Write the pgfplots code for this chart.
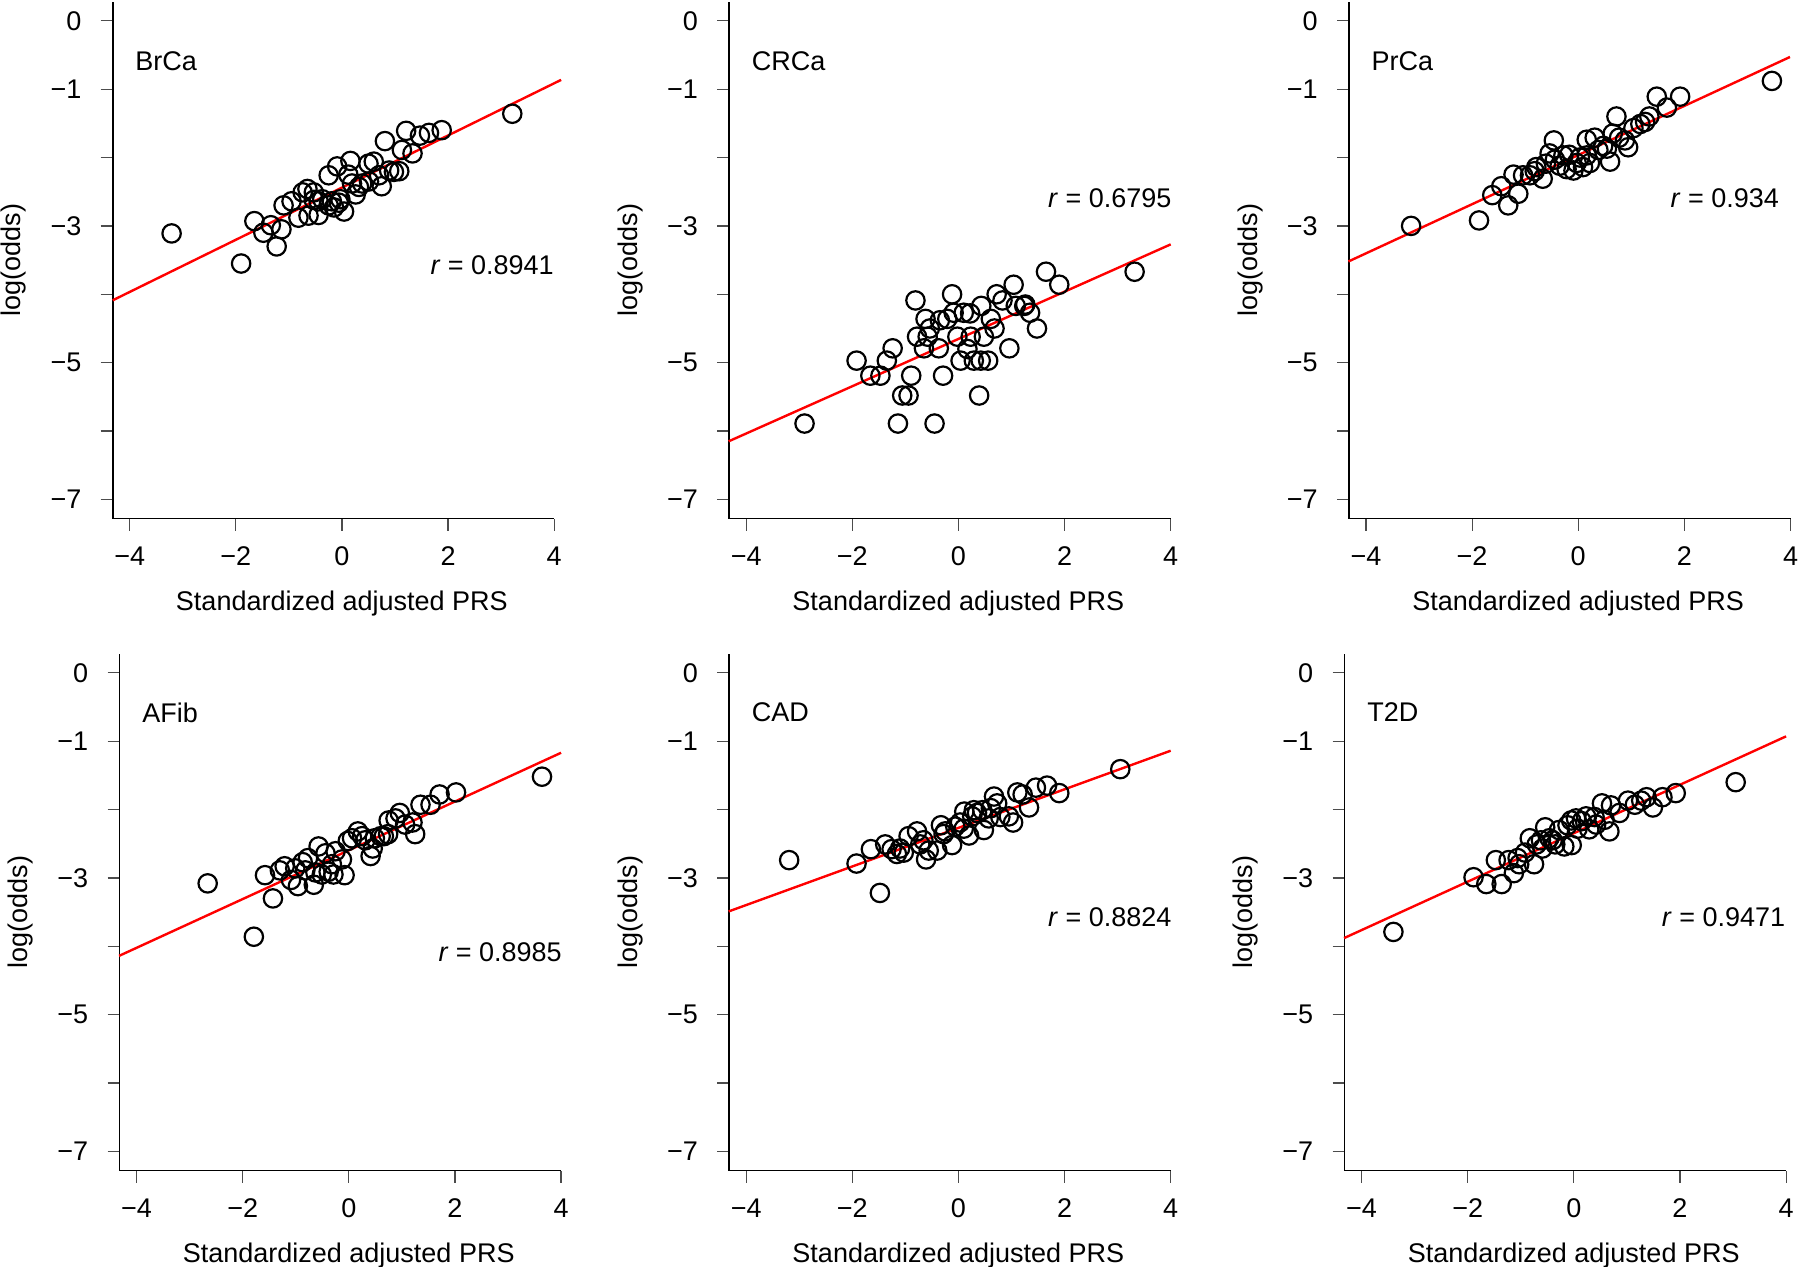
\documentclass[border=0pt]{standalone}
\usepackage{fontspec}
\setmainfont{Liberation Sans}
\usepackage{pgfplots}
\pgfplotsset{compat=1.18}

\pgfplotsset{
  prs/.style={
    width=220.75pt, height=258.5pt, scale only axis,
    xmin=-4.32, xmax=4, ymin=-7.28, ymax=0.28,
    axis x line=bottom, axis y line=left,
    axis line style={-, line width=0.8pt, black},
    tick align=outside, major tick length=6pt,
    tick style={line width=0.6pt, black!70},
    xtick={-4,-2,0,2,4}, xticklabels={−4,−2,0,2,4},
    ytick={-7,-6,-5,-4,-3,-2,-1,0}, yticklabels={−7,,−5,,−3,,−1,0},
    xticklabel style={yshift=-3.5pt},
    yticklabel style={xshift=-5pt},
    xlabel={Standardized adjusted PRS}, ylabel={log(odds)},
    xlabel style={at={(axis description cs:0.519,-0.1634)}, anchor=center},
    ylabel style={at={(axis description cs:-0.2242,0.5)}, anchor=center},
    clip=false,
  },
  pts/.style={only marks, mark=o, mark size=4.6pt, mark options={line width=1.1pt, black}},
  fit/.style={red, line width=1.2pt, no marks},
}
\tikzset{lab/.style={inner sep=0pt}}

\begin{document}
\fontsize{13.5}{16.2}\selectfont
\begin{tikzpicture}
\useasboundingbox (0,0) rectangle (900pt,633pt);

% BrCa
\begin{axis}[prs, at={(56.35pt,373.7pt)}, anchor=south west]
\addplot[pts] coordinates {
(-3.21,-3.11) (-1.90,-3.55) (3.21,-1.36) (-1.65,-2.93) (-1.34,-2.99) (-1.48,-3.10)
(-1.14,-3.05) (-1.23,-3.30) (-1.10,-2.70) (-0.95,-2.64) (-0.82,-2.88) (-0.74,-2.51)
(-0.63,-2.85) (-0.53,-2.51) (-0.44,-2.84) (-0.44,-2.64) (-0.25,-2.26) (-0.25,-2.70)
(-0.09,-2.13) (-0.06,-2.66) (0.04,-2.79) (0.16,-2.05) (0.12,-2.25) (0.26,-2.54)
(0.38,-2.38) (0.50,-2.09) (0.60,-2.06) (0.51,-2.35) (0.75,-2.42) (0.81,-1.76)
(0.89,-2.19) (1.08,-2.20) (1.13,-1.89) (1.21,-1.61) (1.33,-1.94) (1.47,-1.68)
(1.64,-1.64) (1.88,-1.60) (-0.53,-2.62) (-0.19,-2.64) (-0.65,-2.46) (0.19,-2.38)
(0.32,-2.43) (0.70,-2.26) (0.98,-2.21) (-0.37,-2.61) (-0.15,-2.73) (-0.03,-2.61)
};
\addplot[fit] coordinates {(-4.32,-4.088) (4.13,-0.865)};
\node[lab, anchor=west] at (axis cs:-3.9,-0.59) {BrCa};
\node[lab, anchor=east] at (axis cs:4.0,-3.57) {\textit{r} = 0.8941};
\end{axis}

% CRCa
\begin{axis}[prs, at={(364.6pt,373.7pt)}, anchor=south west]
\addplot[pts] coordinates {
(-2.90,-5.89) (-1.14,-5.89) (-0.45,-5.89) (3.32,-3.67) (1.65,-3.67) (1.90,-3.86)
(-1.92,-4.97) (-1.66,-5.19) (-1.47,-5.19) (-1.35,-4.97) (-1.24,-4.79) (-1.06,-5.48)
(-0.94,-5.48) (-0.89,-5.19) (-0.81,-4.09) (-0.78,-4.62) (-0.62,-4.36) (-0.65,-4.79)
(-0.54,-4.50) (-0.58,-4.62) (-0.37,-4.79) (-0.35,-4.38) (-0.29,-5.19) (-0.21,-4.36)
(-0.12,-4.00) (-0.09,-4.27) (-0.02,-4.62) (0.04,-4.97) (0.10,-4.27) (0.22,-4.28)
(0.23,-4.62) (0.17,-4.80) (0.29,-4.97) (0.39,-5.48) (0.43,-4.17) (0.48,-4.62)
(0.42,-4.97) (0.56,-4.97) (0.61,-4.36) (0.68,-4.50) (0.72,-4.00) (0.83,-4.09)
(0.96,-4.79) (1.04,-3.86) (1.08,-4.17) (1.24,-4.17) (1.35,-4.27) (1.48,-4.50)
(1.26,-4.15)
};
\addplot[fit] coordinates {(-4.33,-6.15) (4.0,-3.27)};
\node[lab, anchor=west] at (axis cs:-3.9,-0.59) {CRCa};
\node[lab, anchor=east] at (axis cs:4.02,-2.59) {\textit{r} = 0.6795};
\end{axis}

% PrCa
\begin{axis}[prs, at={(674.5pt,373.7pt)}, anchor=south west]
\addplot[pts] coordinates {
(-3.15,-3.00) (-1.87,-2.92) (3.65,-0.88) (1.48,-1.11) (1.92,-1.11) (1.67,-1.27)
(0.72,-1.40) (-1.62,-2.55) (-1.45,-2.42) (-1.32,-2.70) (-1.13,-2.53) (-1.22,-2.25)
(-1.04,-2.26) (-0.91,-2.26) (-0.79,-2.14) (-0.67,-2.31) (-0.61,-2.09) (-0.54,-1.94)
(-0.46,-1.75) (-0.35,-2.12) (-0.28,-1.97) (-0.17,-1.96) (-0.09,-2.19) (-0.03,-2.08)
(0.03,-2.00) (0.16,-1.74) (0.22,-2.08) (0.31,-1.71) (0.38,-1.89) (0.47,-1.83)
(0.60,-2.06) (0.65,-1.65) (0.77,-1.71) (0.88,-1.75) (0.94,-1.85) (1.04,-1.57)
(1.17,-1.51) (1.26,-1.48) (1.34,-1.40) (0.16,-1.97) (0.54,-1.87) (-0.82,-2.20)
(-0.22,-2.17) (0.09,-2.14) (-0.44,-2.03)
};
\addplot[fit] coordinates {(-4.33,-3.52) (3.99,-0.53)};
\node[lab, anchor=west] at (axis cs:-3.9,-0.59) {PrCa};
\node[lab, anchor=east] at (axis cs:3.79,-2.59) {\textit{r} = 0.934};
\end{axis}

% AFib
\begin{axis}[prs, at={(59.8pt,47.7pt)}, anchor=south west]
\addplot[pts] coordinates {
(-2.66,-3.08) (-1.79,-3.86) (-1.43,-3.30) (3.64,-1.52) (-1.58,-2.96) (-1.30,-2.89)
(-1.21,-2.83) (-1.09,-3.03) (-0.96,-3.12) (-1.01,-2.86) (-0.87,-2.77) (-0.77,-2.71)
(-0.66,-3.10) (-0.63,-2.92) (-0.57,-2.54) (-0.44,-2.64) (-0.38,-2.91) (-0.29,-2.95)
(-0.25,-2.61) (-0.13,-2.73) (-0.08,-2.96) (-0.02,-2.46) (0.06,-2.42) (0.17,-2.32)
(0.25,-2.39) (0.41,-2.68) (0.45,-2.57) (0.49,-2.42) (0.60,-2.39) (0.74,-2.36)
(0.75,-2.16) (0.88,-2.13) (0.96,-2.05) (1.06,-2.22) (1.20,-2.19) (1.25,-2.36)
(1.35,-1.93) (1.54,-1.93) (1.71,-1.78) (2.02,-1.75) (-0.32,-2.80) (-0.82,-2.89)
(-0.51,-2.95) (0.31,-2.45) (0.66,-2.39)
};
\addplot[fit] coordinates {(-4.33,-4.14) (4.0,-1.17)};
\node[lab, anchor=west] at (axis cs:-3.9,-0.58) {AFib};
\node[lab, anchor=east] at (axis cs:4.02,-4.08) {\textit{r} = 0.8985};
\end{axis}

% CAD
\begin{axis}[prs, at={(364.6pt,47.7pt)}, anchor=south west]
\addplot[pts] coordinates {
(-3.19,-2.74) (-1.48,-3.22) (3.05,-1.41) (-1.92,-2.79) (-1.65,-2.58) (-1.38,-2.51)
(-1.26,-2.58) (-1.16,-2.65) (-1.03,-2.63) (-0.94,-2.39) (-0.78,-2.32) (-0.72,-2.51)
(-0.61,-2.73) (-0.56,-2.60) (-0.40,-2.60) (-0.33,-2.23) (-0.25,-2.32) (-0.12,-2.52)
(-0.06,-2.25) (0.03,-2.19) (0.11,-2.03) (0.20,-2.38) (0.26,-2.10) (0.35,-2.05)
(0.48,-2.30) (0.45,-2.01) (0.57,-2.13) (0.67,-1.81) (0.73,-1.91) (0.79,-2.11)
(0.95,-2.10) (1.03,-2.19) (1.11,-1.75) (1.21,-1.78) (1.33,-1.97) (1.46,-1.68)
(1.67,-1.65) (1.90,-1.76) (-0.28,-2.36) (-0.66,-2.45) (0.10,-2.28) (0.29,-2.01)
(0.61,-1.98) (-1.10,-2.57)
};
\addplot[fit] coordinates {(-4.33,-3.49) (4.0,-1.14)};
\node[lab, anchor=west] at (axis cs:-3.9,-0.58) {CAD};
\node[lab, anchor=east] at (axis cs:4.02,-3.58) {\textit{r} = 0.8824};
\end{axis}

% T2D
\begin{axis}[prs, at={(672.3pt,47.7pt)}, anchor=south west]
\addplot[pts] coordinates {
(-3.40,-3.79) (3.05,-1.60) (-1.89,-2.99) (-1.65,-3.09) (-1.47,-2.74) (-1.36,-3.09)
(-1.23,-2.74) (-1.13,-2.93) (-1.03,-2.80) (-0.92,-2.63) (-0.83,-2.42) (-0.75,-2.80)
(-0.70,-2.51) (-0.59,-2.57) (-0.54,-2.26) (-0.46,-2.42) (-0.35,-2.51) (-0.28,-2.30)
(-0.18,-2.54) (-0.12,-2.23) (-0.05,-2.16) (-0.04,-2.52) (0.07,-2.28) (0.15,-2.17)
(0.23,-2.10) (0.29,-2.29) (0.39,-2.11) (0.53,-1.91) (0.58,-2.15) (0.67,-2.32)
(0.70,-1.94) (0.86,-2.05) (1.02,-1.87) (1.15,-1.93) (1.27,-1.87) (1.37,-1.82)
(1.49,-1.97) (1.67,-1.82) (1.92,-1.76) (0.42,-2.22) (-0.40,-2.45) (0.04,-2.13)
(-1.06,-2.71) (-0.62,-2.45)
};
\addplot[fit] coordinates {(-4.33,-3.88) (4.0,-0.93)};
\node[lab, anchor=west] at (axis cs:-3.9,-0.58) {T2D};
\node[lab, anchor=east] at (axis cs:3.99,-3.58) {\textit{r} = 0.9471};
\end{axis}
\end{tikzpicture}
\end{document}
